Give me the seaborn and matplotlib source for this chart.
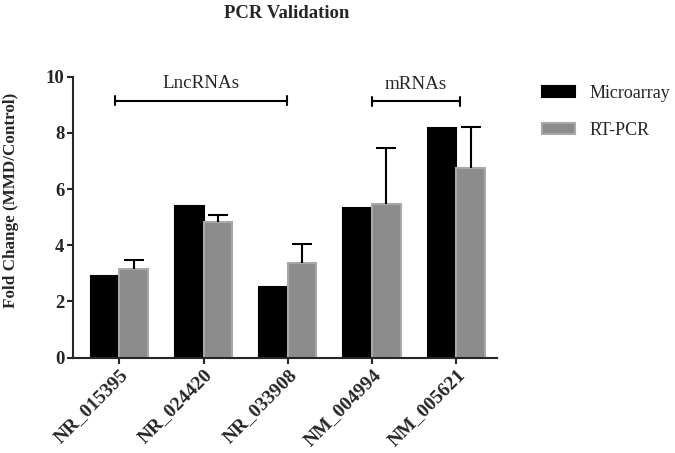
import matplotlib
matplotlib.use("Agg")
import matplotlib.pyplot as plt
import seaborn as sns
import pandas as pd
import numpy as np

categories = ["NR_015395", "NR_024420", "NR_033908", "NM_004994", "NM_005621"]
microarray = [2.91, 5.41, 2.51, 5.33, 8.19]
rtpcr = [3.14, 4.83, 3.38, 5.46, 6.74]
rtpcr_err = [0.34, 0.24, 0.67, 1.99, 1.47]
series = ["Microarray", "RT-PCR"]
colors = ["#000000", "#8c8c8c"]
edge_colors = ["#000000", "#a8a8a8"]

sns.set_style("ticks")
plt.rcParams["font.family"] = ["Liberation Serif", "DejaVu Serif"]

df = pd.DataFrame({
    "Gene": categories * 2,
    "Series": [series[0]] * len(categories) + [series[1]] * len(categories),
    "Value": microarray + rtpcr,
})

fig = plt.figure(figsize=(6.75, 4.53), dpi=100)
ax = fig.add_axes([0.108, 0.2104, 0.628, 0.6203])

sns.barplot(data=df, x="Gene", y="Value", hue="Series", order=categories,
            hue_order=series, palette=colors, width=0.68, errorbar=None,
            ax=ax, legend=False, saturation=1)

for cont, ec in zip(ax.containers, edge_colors):
    for p in cont:
        p.set_edgecolor(ec)
        p.set_linewidth(1.5)

# upper-only error bars on RT-PCR
xs = [p.get_x() + p.get_width() / 2 for p in ax.containers[1]]
eb = ax.errorbar(xs, rtpcr, yerr=[np.zeros(len(rtpcr)), rtpcr_err], fmt="none",
                 ecolor="black", elinewidth=1.5, capsize=7, capthick=1.5, zorder=3)
eb[1][0].set_visible(False)

ax.set_ylim(0, 10)
ax.set_xlim(-0.55, 4.48)
ax.set_yticks([0, 2, 4, 6, 8, 10])
ax.set_yticklabels(["0", "2", "4", "6", "8", "10"], fontsize=13.5, fontweight="bold")
ax.set_xticks(range(len(categories)))
ax.set_xticklabels(categories, fontsize=14, fontweight="bold", rotation=45,
                   ha="right", rotation_mode="anchor")
ax.tick_params(axis="both", direction="out", length=4, width=1.5, pad=2)
ax.set_xlabel("")
ax.set_ylabel("Fold Change (MMD/Control)", fontsize=12.3, fontweight="bold")
ax.yaxis.set_label_coords(-0.128, 0.56)
sns.despine(ax=ax)
for s in ["left", "bottom"]:
    ax.spines[s].set_linewidth(1.5)

# group brackets
def bracket(x0, x1, y, label):
    h = 0.17
    ax.plot([x0, x1], [y, y], color="black", lw=1.5, clip_on=False)
    ax.plot([x0, x0], [y - h, y + h], color="black", lw=1.5, clip_on=False)
    ax.plot([x1, x1], [y - h, y + h], color="black", lw=1.5, clip_on=False)
    ax.text((x0 + x1) / 2, y + 0.3, label, ha="center", va="bottom", fontsize=13.7)

bracket(-0.05, 1.99, 9.15, "LncRNAs")
bracket(3.0, 4.04, 9.12, "mRNAs")

# legend
from matplotlib.patches import Patch
handles = [Patch(facecolor=c, edgecolor=e, linewidth=1.5) for c, e in zip(colors, edge_colors)]
fig.legend(handles, series, loc="upper left", bbox_to_anchor=(542 / 675, 1 - 85 / 453),
           frameon=False, fontsize=13, handlelength=1.8, handleheight=0.5,
           handletextpad=0.85, labelspacing=1.1, borderpad=0, borderaxespad=0)

fig.text(0.425, 1 - 13 / 453, "PCR Validation", ha="center", va="center",
         fontsize=13.5, fontweight="bold")

fig.savefig("out.png", dpi=100)
